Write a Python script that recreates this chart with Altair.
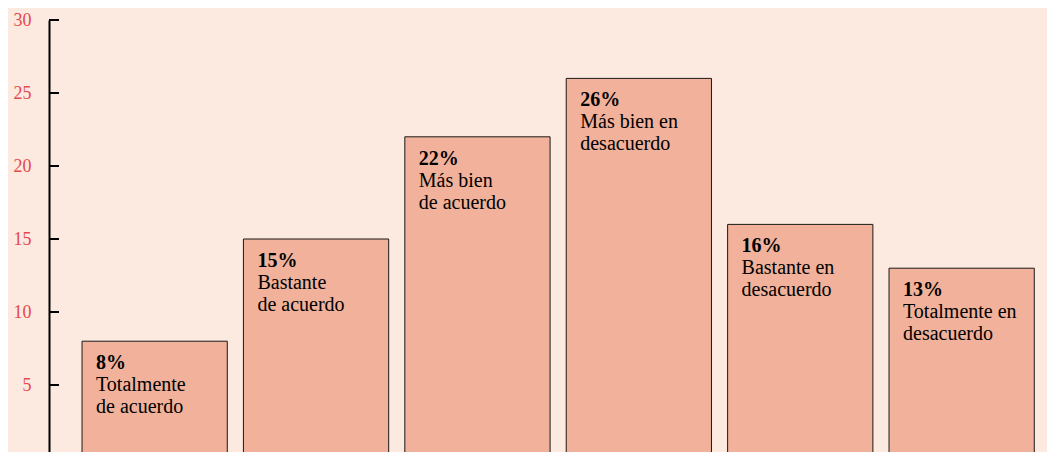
import altair as alt
import pandas as pd

categories = [
    "Totalmente de acuerdo",
    "Bastante de acuerdo",
    "Más bien de acuerdo",
    "Más bien en desacuerdo",
    "Bastante en desacuerdo",
    "Totalmente en desacuerdo",
]
values = [8, 15, 22, 26, 16, 13]
pct_labels = ["8%", "15%", "22%", "26%", "16%", "13%"]
desc_labels = [
    "Totalmente\nde acuerdo",
    "Bastante\nde acuerdo",
    "Más bien\nde acuerdo",
    "Más bien en\ndesacuerdo",
    "Bastante en\ndesacuerdo",
    "Totalmente en\ndesacuerdo",
]
tick_values = [5, 10, 15, 20, 25, 30]

df = pd.DataFrame({"cat": categories, "value": values, "pct": pct_labels, "desc": desc_labels})
ticks_df = pd.DataFrame({"t": tick_values})

FONT = "Times New Roman"
BG = "#fce9df"
BAR = "#f1b19a"
RED = "#e5484d"

xscale = alt.Scale(paddingInner=0.1, paddingOuter=0.1417, align=0.722)
yscale = alt.Scale(domain=[0, 30], nice=False, zero=True)

x_enc = alt.X("cat:N", sort=categories, scale=xscale, axis=None)

bars = alt.Chart(df).mark_bar(color=BAR, stroke="#1a1a1a", strokeWidth=1).encode(
    x=x_enc,
    y=alt.Y(
        "value:Q",
        scale=yscale,
        axis=alt.Axis(
            values=tick_values,
            title=None,
            grid=False,
            ticks=False,
            tickSize=0,
            labelPadding=18,
            labelFont=FONT,
            labelFontSize=18,
            labelColor=RED,
            domainColor="#000000",
            domainWidth=2,
        ),
    ),
)

pct_text = alt.Chart(df).mark_text(
    align="left", baseline="alphabetic", dx=14, dy=28,
    font=FONT, fontSize=20, fontWeight="bold", color="#000000",
).encode(
    x=alt.X("cat:N", sort=categories, scale=xscale, axis=None, bandPosition=0),
    y=alt.Y("value:Q", scale=yscale),
    text="pct:N",
)

desc_text = alt.Chart(df).mark_text(
    align="left", baseline="alphabetic", dx=14, dy=50, lineBreak="\n", lineHeight=22,
    font=FONT, fontSize=20, color="#000000",
).encode(
    x=alt.X("cat:N", sort=categories, scale=xscale, axis=None, bandPosition=0),
    y=alt.Y("value:Q", scale=yscale),
    text="desc:N",
)

tick_rules = alt.Chart(ticks_df).mark_rule(color="#000000", strokeWidth=2).encode(
    x=alt.value(0),
    x2=alt.value(10),
    y=alt.Y("t:Q", scale=yscale),
)

chart = alt.layer(bars, pct_text, desc_text, tick_rules).properties(
    width=998,
    height=438,
    background=BG,
    padding={"left": 41, "top": 12, "right": 0, "bottom": 0},
    autosize=alt.AutoSizeParams(type="none"),
).configure_view(stroke=None)

chart.save("out.html", embed_options={"renderer": "svg", "actions": False})
